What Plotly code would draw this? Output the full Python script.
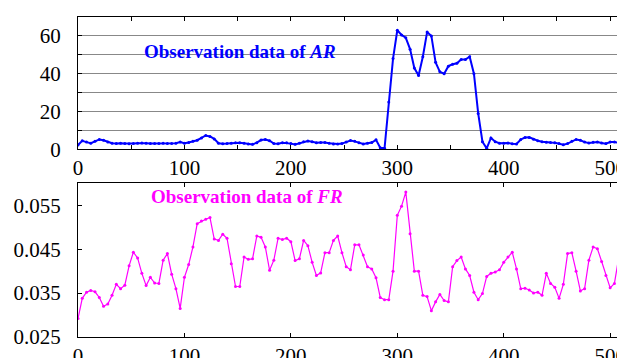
import plotly.graph_objects as go

# ---- data ----
x_step4 = list(range(0, 513, 4))

ar_values = [
    2.3, 4.5, 3.8, 3.2, 4.2, 5.2, 4.8, 3.8, 3.2, 3.0,
    3.2, 3.0, 2.9, 3.1, 3.2, 3.3, 3.2, 3.0, 3.0, 3.1,
    3.2, 3.1, 3.0, 3.2, 3.8, 3.2, 3.6, 4.3, 4.8, 6.0,
    7.3, 6.8, 5.5, 3.2, 2.9, 3.0, 3.2, 3.5, 3.5, 3.2,
    2.8, 2.6, 3.5, 4.9, 5.2, 4.5, 3.0, 2.9, 3.5, 3.4,
    3.0, 2.6, 3.2, 4.0, 4.4, 4.0, 3.5, 3.6, 3.6, 3.2,
    2.8, 2.8, 3.0, 3.8, 4.6, 4.2, 3.4, 2.8, 3.2, 3.6,
    5.0, 0.8, 0.5, 25.0, 48.0, 63.0, 60.5, 59.0, 53.0, 43.0,
    39.0, 49.0, 62.0, 60.0, 46.0, 41.0, 40.0, 44.0, 45.0, 45.5,
    47.5, 47.5, 49.0, 40.0, 19.0, 4.0, 0.5, 6.0, 4.0, 3.2,
    3.2, 3.3, 2.9, 2.8, 5.2, 6.2, 6.3, 5.3, 4.5, 4.0,
    3.7, 3.6, 3.5, 3.0, 2.4, 3.0, 4.2, 5.2, 4.8, 3.8,
    3.3, 3.7, 3.9, 3.3, 3.0, 3.8, 3.9, 3.4, 3.0,
]

fr_values = [
    0.0292, 0.0338, 0.0352, 0.0356, 0.0353, 0.0340, 0.0320, 0.0325, 0.0345, 0.0370,
    0.0360, 0.0368, 0.0412, 0.0443, 0.0430, 0.0395, 0.0367, 0.0386, 0.0373, 0.0372,
    0.0425, 0.0440, 0.0393, 0.0360, 0.0315, 0.0386, 0.0415, 0.0455, 0.0508, 0.0514,
    0.0518, 0.0522, 0.0473, 0.0470, 0.0484, 0.0475, 0.0417, 0.0365, 0.0365, 0.0432,
    0.0427, 0.0428, 0.0480, 0.0477, 0.0455, 0.0402, 0.0425, 0.0475, 0.0472, 0.0475,
    0.0467, 0.0424, 0.0428, 0.0470, 0.0458, 0.0420, 0.0390, 0.0396, 0.0442, 0.0442,
    0.0470, 0.0480, 0.0442, 0.0410, 0.0403, 0.0460, 0.0460, 0.0437, 0.0410, 0.0405,
    0.0385, 0.0340, 0.0335, 0.0335, 0.0400, 0.0527, 0.0548, 0.0580, 0.0485, 0.0400,
    0.0400, 0.0345, 0.0342, 0.0310, 0.0330, 0.0347, 0.0333, 0.0330, 0.0410, 0.0424,
    0.0432, 0.0405, 0.0390, 0.0352, 0.0335, 0.0349, 0.0388, 0.0395, 0.0398, 0.0403,
    0.0420, 0.0432, 0.0443, 0.0405, 0.0360, 0.0361, 0.0357, 0.0350, 0.0352, 0.0345,
    0.0395, 0.0372, 0.0363, 0.0338, 0.0370, 0.0440, 0.0442, 0.0400, 0.0355, 0.0360,
    0.0425, 0.0455, 0.0451, 0.0422, 0.0390, 0.0362, 0.0372, 0.0430, 0.0460,
]

top_x_tickvals = [0, 50, 100, 150, 200, 250, 300, 350, 400, 450, 500]
top_x_ticktext = ["0", "", "100", "", "200", "", "300", "", "400", "", "500"]
top_y_tickvals = [0, 10, 20, 30, 40, 50, 60, 70]
top_y_ticktext = ["0", "", "20", "", "40", "", "60", ""]
bot_x_tickvals = [0, 100, 200, 300, 400, 500]
bot_x_ticktext = ["0", "100", "200", "300", "400", "500"]
bot_y_tickvals = [0.025, 0.035, 0.045, 0.055]
bot_y_ticktext = ["0.025", "0.035", "0.045", "0.055"]

FONT = "Liberation Serif"

fig = go.Figure()
fig.add_trace(go.Scatter(
    x=x_step4, y=ar_values, mode="lines+markers",
    line=dict(color="#0000FF", width=2),
    marker=dict(color="#0000FF", size=3, symbol="circle"),
    xaxis="x", yaxis="y", showlegend=False,
))
fig.add_trace(go.Scatter(
    x=x_step4, y=fr_values, mode="lines+markers",
    line=dict(color="#FF00FF", width=1.2),
    marker=dict(color="#FF00FF", size=3, symbol="circle"),
    xaxis="x2", yaxis="y2", showlegend=False,
))

axis_common = dict(
    showline=True, linecolor="black", linewidth=1, mirror="ticks",
    ticks="inside", tickcolor="black", ticklen=4, tickwidth=1,
    tickfont=dict(family=FONT, size=21, color="black"),
    zeroline=False, automargin=False, ticklabeloverflow="allow",
)

# the page body has an 8px margin; the figure is sized to fit the window
fig.update_layout(
    width=617, height=350,
    margin=dict(l=70, r=1, t=9, b=21, autoexpand=False),
    paper_bgcolor="white", plot_bgcolor="white",
    font=dict(family=FONT, color="black"),
    xaxis=dict(domain=[0, 1], anchor="y", range=[0, 513],
               tickmode="array", tickvals=top_x_tickvals, ticktext=top_x_ticktext,
               showgrid=False, **axis_common),
    yaxis=dict(domain=[0.5866, 1], anchor="x", range=[0, 70],
               tickmode="array", tickvals=top_y_tickvals, ticktext=top_y_ticktext,
               showgrid=True, gridcolor="#888888", gridwidth=1,
               ticklabelstandoff=12, **axis_common),
    xaxis2=dict(domain=[0, 1], anchor="y2", range=[0, 513],
                tickmode="array", tickvals=bot_x_tickvals, ticktext=bot_x_ticktext,
                showgrid=False, **axis_common),
    yaxis2=dict(domain=[0, 0.4803], anchor="x2", range=[0.025, 0.06],
                tickmode="array", tickvals=bot_y_tickvals, ticktext=bot_y_ticktext,
                showgrid=False, ticklabelstandoff=12, **axis_common),
    annotations=[
        dict(text="<b>Observation data of <i>AR</i></b>", x=152, y=52,
             xref="x", yref="y", showarrow=False,
             font=dict(family=FONT, size=19, color="#0000FF")),
        dict(text="<b>Observation data of <i>FR</i></b>", x=158.5, y=0.0570,
             xref="x2", yref="y2", showarrow=False,
             font=dict(family=FONT, size=19, color="#FF00FF")),
    ],
)

fig.write_html("out.html")
